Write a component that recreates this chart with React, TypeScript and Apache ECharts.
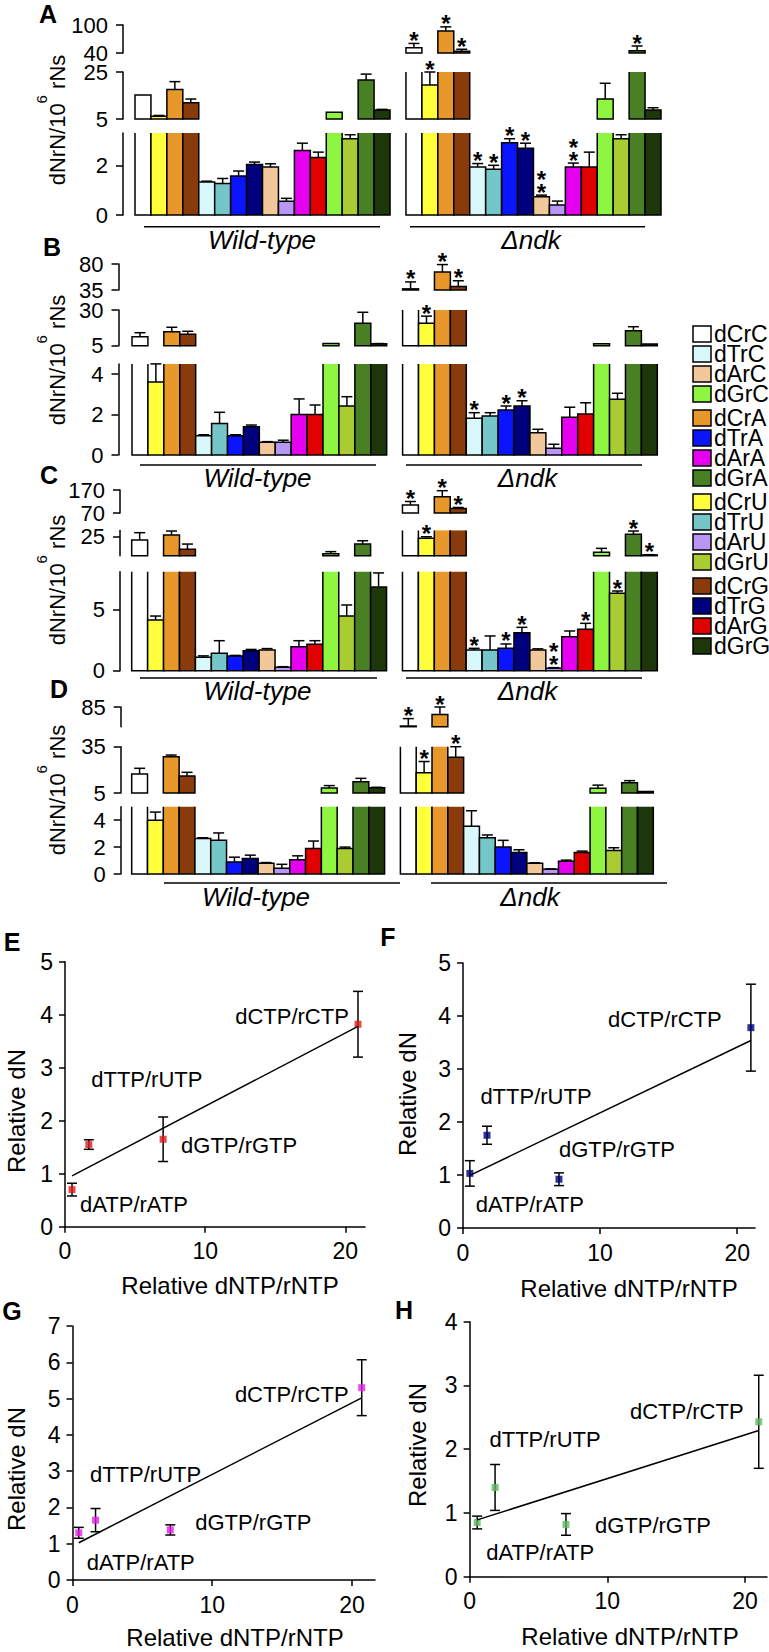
import React, { useEffect, useRef } from "react";
import * as echarts from "echarts";

const FONT = '"Liberation Sans", Arial, Helvetica, sans-serif';

// ---- bar categories (order inside each strain group) ----
const barNames = ["dCrC", "dCrU", "dCrA", "dCrG", "dTrC", "dTrU", "dTrA", "dTrG", "dArC", "dArU", "dArA", "dArG", "dGrC", "dGrU", "dGrA", "dGrG"];
const barColors = ["#ffffff", "#ffff3c", "#e8972b", "#8a3b0b", "#d8f8fb", "#74c6c8", "#0a14ff", "#00007f", "#f2c89b", "#b896f5", "#e600f0", "#e10000", "#8ef540", "#a9cc33", "#4a8024", "#1d370b"];
const legendOrder = ["dCrC", "dTrC", "dArC", "dGrC", "dCrA", "dTrA", "dArA", "dGrA", "dCrU", "dTrU", "dArU", "dGrU", "dCrG", "dTrG", "dArG", "dGrG"];
const strainNames = ["Wild-type", "\u0394ndk"];

// ---- Panel A ----
const wtA = [15.2, 6.2, 17.6, 11.9, 1.33, 1.27, 1.57, 2.03, 1.93, 0.55, 2.6, 2.31, 7.85, 3.07, 21.6, 8.8];
const wtAErr = [0, 0.3, 3.3, 1.6, 0.03, 0.2, 0.2, 0.1, 0.13, 0.12, 0.29, 0.22, 0, 0.16, 2.5, 0.3];
const koA = [51, 19.5, 87, 44, 1.93, 1.84, 2.91, 2.69, 0.73, 0.4, 1.93, 1.93, 13.5, 3.07, 45, 8.8];
const koAErr = [9.5, 5.5, 9, 4, 0.14, 0.16, 0.16, 0.2, 0.07, 0.16, 0.16, 0.6, 6.7, 0.16, 10, 1.0];
const koAStars = [1, 1, 1, 1, 1, 1, 1, 1, 2, 0, 2, 0, 0, 0, 1, 0];

// ---- Panel B ----
const wtB = [11.3, 3.6, 14.8, 13, 0.95, 1.56, 0.95, 1.4, 0.63, 0.63, 2.0, 2.0, 6.5, 2.42, 20.7, 6.3];
const wtBErr = [2.8, 1.0, 3.1, 2.1, 0.05, 0.55, 0.05, 0.08, 0.03, 0.1, 0.77, 0.47, 0, 0.46, 7.7, 0.2];
const koB = [37, 20.7, 66, 41, 1.81, 1.93, 2.22, 2.42, 1.1, 0.33, 1.86, 2.02, 6.3, 2.75, 15.5, 6.2];
const koBErr = [12, 5, 13, 10, 0.28, 0.16, 0.2, 0.26, 0.17, 0.2, 0.5, 0.56, 0, 0.3, 2.8, 0];
const koBStars = [1, 1, 1, 1, 1, 0, 1, 1, 0, 0, 0, 0, 0, 0, 0, 0];

// ---- Panel C ----
const wtC = [22.4, 4.18, 26.3, 15.1, 1.1, 1.43, 1.21, 1.65, 1.7, 0.28, 1.98, 2.17, 11.5, 4.5, 19.2, 6.9];
const wtCErr = [5.8, 0.32, 3.2, 4.1, 0.12, 1.04, 0.05, 0.1, 0.12, 0.05, 0.49, 0.3, 1.7, 0.91, 2.6, 1.15];
const koC = [105, 23.7, 141, 90, 1.7, 1.7, 1.84, 3.13, 1.7, 0.2, 2.8, 3.41, 12.7, 6.38, 26.9, 10.6];
const koCErr = [15, 1.3, 26, 4, 0.14, 1.16, 0.36, 0.44, 0.1, 0.05, 0.47, 0.49, 3.1, 0.18, 2.6, 0.2];
const koCStars = [1, 1, 1, 1, 1, 0, 1, 1, 0, 2, 0, 1, 0, 1, 1, 1];

// ---- Panel D ----
const wtD = [17.3, 4.0, 28.5, 16, 2.64, 2.5, 0.9, 1.15, 0.8, 0.42, 1.05, 1.9, 8.2, 1.9, 12.3, 8.4];
const wtDErr = [3.7, 0.6, 1.1, 2.4, 0.05, 0.55, 0.35, 0.25, 0.05, 0.3, 0.3, 0.55, 1.6, 0.1, 2.2, 0.3];
const koD = [41.5, 18.2, 68, 28.2, 3.55, 2.7, 2.0, 1.6, 0.8, 0.35, 0.95, 1.6, 8, 1.75, 11.6, 6];
const koDErr = [17, 7.2, 17, 6.8, 1.15, 0.2, 0.5, 0.2, 0.03, 0.03, 0.08, 0.1, 2.1, 0.2, 1.4, 0];
const koDStars = [1, 1, 1, 1, 0, 0, 0, 0, 0, 0, 0, 0, 0, 0, 0, 0];

// broken-axis segments [min, max] and tick labels: bottom, middle, top
const segA = [[0, 3.3], [5, 25], [40, 100]];
const segB = [[0, 4.5], [5, 30], [35, 80]];
const segC = [[0, 8.15], [10, 30], [70, 170]];
const segD = [[0, 5], [5, 35], [40, 85]];
const ticksA = [[0, 2], [5, 25], [40, 100]];
const ticksB = [[0, 2, 4], [5, 30], [35, 80]];
const ticksC = [[0, 5], [10, 25], [70, 170]];
const ticksD = [[0, 2, 4], [5, 35], [40, 85]];

// ---- scatter panels E-H ----
const scatterNames = ["dATP/rATP", "dTTP/rUTP", "dGTP/rGTP", "dCTP/rCTP"];
const eX = [0.5, 1.7, 7, 20.9];
const eY = [0.7, 1.55, 1.65, 3.82];
const eErr = [0.12, 0.09, 0.42, 0.62];
const fX = [0.5, 1.75, 7, 21];
const fY = [1.03, 1.75, 0.92, 3.78];
const fErr = [0.24, 0.17, 0.12, 0.82];
const gX = [0.45, 1.65, 7, 20.7];
const gY = [1.3, 1.65, 1.38, 5.3];
const gErr = [0.15, 0.32, 0.14, 0.77];
const hX = [0.55, 1.85, 7, 21];
const hY = [0.85, 1.4, 0.82, 2.43];
const hErr = [0.1, 0.36, 0.17, 0.73];
const xTicks = [0, 10, 20];

// ---- layout ----
const barPanels = [
  { letter: "A", letterPos: [48, 14], left: 135, width: 526, axisX: 123, segs: segA, ticks: ticksA,
    segPx: [[133, 215], [72, 119], [25, 53]], wt: wtA, wtErr: wtAErr, ko: koA, koErr: koAErr, koStars: koAStars,
    lineY: 226.7, wtLine: [144, 380], koLine: [410, 645], textY: 240, wtTextX: 262, koTextX: 531, titleY: 120 },
  { letter: "B", letterPos: [52, 247], left: 132, width: 525.3, axisX: 118.5, segs: segB, ticks: ticksB,
    segPx: [[363.9, 455], [310, 345.7], [264, 290]], wt: wtB, wtErr: wtBErr, ko: koB, koErr: koBErr, koStars: koBStars,
    lineY: 465, wtLine: [140, 376], koLine: [406, 642], textY: 477.5, wtTextX: 257.5, koTextX: 527.5, titleY: 360 },
  { letter: "C", letterPos: [49, 475], left: 131.7, width: 525.6, axisX: 120, segs: segC, ticks: ticksC,
    segPx: [[571.7, 670.7], [530.4, 555.7], [490, 513]], wt: wtC, wtErr: wtCErr, ko: koC, koErr: koCErr, koStars: koCStars,
    lineY: 678, wtLine: [140, 377], koLine: [406, 642], textY: 690.7, wtTextX: 257.5, koTextX: 527.5, titleY: 580 },
  { letter: "D", letterPos: [59, 689], left: 131.7, width: 521.6, axisX: 120.7, segs: segD, ticks: ticksD,
    segPx: [[806.7, 874], [746.7, 793], [707, 726.7]], wt: wtD, wtErr: wtDErr, ko: koD, koErr: koDErr, koStars: koDStars,
    lineY: 883, wtLine: [164, 400], koLine: [431, 667], textY: 897, wtTextX: 256, koTextX: 530, titleY: 790 },
];

const scatterPanels = [
  { letter: "E", x: eX, y: eY, err: eErr, color: "#e01b1b", left: 65, top: 961.7, width: 300, height: 265, xMax: 21.4, yMax: 5,
    letterPos: [12, 942], yTitle: [16, 1111], xTitle: [230, 1285], offsets: [[62, 15], [58, -65], [76, 6], [-66, -8]] },
  { letter: "F", x: fX, y: fY, err: fErr, color: "#00007a", left: 463, top: 963, width: 292, height: 265, xMax: 21.3, yMax: 5,
    letterPos: [388, 937], yTitle: [407, 1094], xTitle: [629, 1288], offsets: [[60, 31], [49, -39], [58, -30], [-86, -8]] },
  { letter: "G", x: gX, y: gY, err: gErr, color: "#e41fe6", left: 72.5, top: 1326, width: 302.5, height: 254, xMax: 21.65, yMax: 7,
    letterPos: [12, 1311], yTitle: [16, 1469], xTitle: [235, 1637], offsets: [[62, 30], [50, -46], [83, -7], [-70, 7]] },
  { letter: "H", x: hX, y: hY, err: hErr, color: "#5cb85c", left: 469.6, top: 1321.7, width: 297.4, height: 255, xMax: 21.6, yMax: 4,
    letterPos: [404, 1310], yTitle: [417, 1445], xTitle: [630, 1636], offsets: [[63, 30], [50, -48], [87, 1], [-72, -10]] },
];

const legendLayout = { boxX: 693, textX: 714, firstY: 334, rowGap: 20, groupGap: 84 };

function barSeries(gi: number, seg: number[], items: number[][]) {
  const lo = seg[0];
  const hi = seg[1];
  return {
    type: "custom",
    coordinateSystem: "cartesian2d",
    xAxisIndex: gi,
    yAxisIndex: gi,
    clip: false,
    silent: true,
    data: items,
    encode: { x: 0, y: 1 },
    renderItem: (params: any, api: any) => {
      const slot = api.value(0);
      const v = api.value(1);
      const e = api.value(2);
      const st = api.value(3);
      const ci = api.value(4);
      const children: any[] = [];
      if (!(v > lo)) return { type: "group", children };
      const w = api.size([1, 0])[0];
      const base = api.coord([slot, lo]);
      const xc = base[0];
      const yb = base[1];
      const x0 = xc - w / 2;
      const x1 = xc + w / 2;
      const clipped = v > hi;
      const yt = api.coord([slot, Math.min(v, hi)])[1];
      children.push({ type: "rect", shape: { x: x0, y: yt, width: w, height: yb - yt }, style: { fill: barColors[ci], stroke: "none" } });
      if (clipped) {
        children.push({ type: "polyline", shape: { points: [[x0, yt], [x0, yb], [x1, yb], [x1, yt]] }, style: { fill: "none", stroke: "#000", lineWidth: 1.5 } });
      } else {
        children.push({ type: "rect", shape: { x: x0, y: yt, width: w, height: yb - yt }, style: { fill: "none", stroke: "#000", lineWidth: 1.5 } });
        let ye = yt;
        if (e > 0) {
          ye = api.coord([slot, Math.min(v + e, hi)])[1];
          children.push({ type: "line", shape: { x1: xc, y1: yt, x2: xc, y2: ye }, style: { stroke: "#000", lineWidth: 1.5 } });
          children.push({ type: "line", shape: { x1: xc - 5.5, y1: ye, x2: xc + 5.5, y2: ye }, style: { stroke: "#000", lineWidth: 1.5 } });
        }
        for (let k = 0; k < st; k++) {
          children.push({ type: "text", x: xc, y: ye - 3 - k * 13,
            style: { text: "*", fontSize: 24, fontWeight: "bold", fontFamily: FONT, fill: "#000", align: "center", verticalAlign: "middle" } });
        }
      }
      return { type: "group", children };
    },
  };
}

function regression(xs: number[], ys: number[]) {
  const n = xs.length;
  const mx = xs.reduce((a, b) => a + b, 0) / n;
  const my = ys.reduce((a, b) => a + b, 0) / n;
  let sxy = 0;
  let sxx = 0;
  for (let i = 0; i < n; i++) {
    sxy += (xs[i] - mx) * (ys[i] - my);
    sxx += (xs[i] - mx) * (xs[i] - mx);
  }
  const b = sxy / sxx;
  return { a: my - b * mx, b };
}

function buildOption() {
  const grid: any[] = [];
  const xAxis: any[] = [];
  const yAxis: any[] = [];
  const series: any[] = [];
  const graphic: any[] = [];
  const axisLineStyle = { color: "#000", width: 1.5 };
  let gi = 0;

  barPanels.forEach((p) => {
    const items: number[][] = [];
    for (let i = 0; i < barNames.length; i++) items.push([i, p.wt[i], p.wtErr[i], 0, i]);
    for (let i = 0; i < barNames.length; i++) items.push([i + barNames.length + 1, p.ko[i], p.koErr[i], p.koStars[i], i]);
    p.segs.forEach((seg, k) => {
      const top = p.segPx[k][0];
      const bottom = p.segPx[k][1];
      grid.push({ left: p.left, top, width: p.width, height: bottom - top });
      xAxis.push({ type: "value", gridIndex: gi, min: -0.5, max: barNames.length * 2 + 0.5, show: false });
      yAxis.push({
        type: "value", gridIndex: gi, min: seg[0], max: seg[1], offset: p.left - p.axisX,
        axisLine: { show: true, onZero: false, lineStyle: axisLineStyle },
        axisTick: { show: true, length: 7, customValues: p.ticks[k], lineStyle: axisLineStyle },
        axisLabel: { show: true, customValues: p.ticks[k], fontSize: 22, fontFamily: FONT, color: "#000", margin: 15 },
        splitLine: { show: false },
      });
      series.push(barSeries(gi, seg, items));
      gi++;
    });
    graphic.push({ type: "text", x: p.letterPos[0], y: p.letterPos[1],
      style: { text: p.letter, fontSize: 25, fontWeight: "bold", fontFamily: FONT, fill: "#000", align: "center", verticalAlign: "middle" } });
    graphic.push({ type: "text", x: 51, y: p.titleY, rotation: Math.PI / 2,
      style: { text: "{a|dNrN/10}{b|6}{a| rNs}", align: "center", verticalAlign: "middle", fill: "#000",
        rich: {
          a: { fontSize: 22, fontFamily: FONT, fill: "#000", lineHeight: 22, padding: [12, 0, 0, 0] },
          b: { fontSize: 15, fontFamily: FONT, fill: "#000", lineHeight: 15, padding: [0, 0, 19, 0] },
        } } });
    graphic.push({ type: "line", shape: { x1: p.wtLine[0], y1: p.lineY, x2: p.wtLine[1], y2: p.lineY }, style: { stroke: "#000", lineWidth: 1.5 } });
    graphic.push({ type: "line", shape: { x1: p.koLine[0], y1: p.lineY, x2: p.koLine[1], y2: p.lineY }, style: { stroke: "#000", lineWidth: 1.5 } });
    graphic.push({ type: "text", x: p.wtTextX, y: p.textY,
      style: { text: strainNames[0], fontSize: 26, fontStyle: "italic", fontFamily: FONT, fill: "#000", align: "center", verticalAlign: "middle" } });
    graphic.push({ type: "text", x: p.koTextX, y: p.textY,
      style: { text: strainNames[1], fontSize: 26, fontStyle: "italic", fontFamily: FONT, fill: "#000", align: "center", verticalAlign: "middle" } });
  });

  legendOrder.forEach((name, i) => {
    const g = Math.floor(i / 4);
    const r = i % 4;
    const cy = legendLayout.firstY + g * legendLayout.groupGap + r * legendLayout.rowGap;
    const ci = barNames.indexOf(name);
    graphic.push({ type: "rect", shape: { x: legendLayout.boxX, y: cy - 8, width: 18, height: 16 },
      style: { fill: barColors[ci], stroke: "#000", lineWidth: 1.5 } });
    graphic.push({ type: "text", x: legendLayout.textX, y: cy,
      style: { text: name, fontSize: 23, fontFamily: FONT, fill: "#000", align: "left", verticalAlign: "middle" } });
  });

  scatterPanels.forEach((p) => {
    grid.push({ left: p.left, top: p.top, width: p.width, height: p.height });
    xAxis.push({
      type: "value", gridIndex: gi, min: 0, max: p.xMax,
      axisLine: { show: true, onZero: false, lineStyle: axisLineStyle },
      axisTick: { show: true, length: 6, customValues: xTicks, lineStyle: axisLineStyle },
      axisLabel: { show: true, customValues: xTicks, fontSize: 23, fontFamily: FONT, color: "#000", margin: 13 },
      splitLine: { show: false },
    });
    yAxis.push({
      type: "value", gridIndex: gi, min: 0, max: p.yMax, interval: 1,
      axisLine: { show: true, onZero: false, lineStyle: axisLineStyle },
      axisTick: { show: true, length: 6, lineStyle: axisLineStyle },
      axisLabel: { show: true, fontSize: 23, fontFamily: FONT, color: "#000", margin: 12 },
      splitLine: { show: false },
    });
    const fit = regression(p.x, p.y);
    const xa = Math.min(...p.x);
    const xb = Math.max(...p.x);
    series.push({ type: "line", xAxisIndex: gi, yAxisIndex: gi, silent: true, symbol: "none", showSymbol: false,
      data: [[xa, fit.a + fit.b * xa], [xb, fit.a + fit.b * xb]], lineStyle: { color: "#000", width: 1.5 } });
    const offs = p.offsets;
    series.push({
      type: "custom", coordinateSystem: "cartesian2d", xAxisIndex: gi, yAxisIndex: gi, silent: true, clip: false,
      data: p.x.map((x, i) => [x, p.y[i], p.err[i], i]), encode: { x: 0, y: 1 },
      renderItem: (params: any, api: any) => {
        const x = api.value(0);
        const y = api.value(1);
        const e = api.value(2);
        const idx = api.value(3);
        const pt = api.coord([x, y]);
        const top = api.coord([x, y + e]);
        const bot = api.coord([x, y - e]);
        const s = { stroke: "#000", lineWidth: 1.5 };
        return { type: "group", children: [
          { type: "line", shape: { x1: top[0], y1: top[1], x2: bot[0], y2: bot[1] }, style: s },
          { type: "line", shape: { x1: top[0] - 5, y1: top[1], x2: top[0] + 5, y2: top[1] }, style: s },
          { type: "line", shape: { x1: bot[0] - 5, y1: bot[1], x2: bot[0] + 5, y2: bot[1] }, style: s },
          { type: "text", x: pt[0] + offs[idx][0], y: pt[1] + offs[idx][1],
            style: { text: scatterNames[idx], fontSize: 22, fontFamily: FONT, fill: "#000", align: "center", verticalAlign: "middle" } },
        ] };
      },
    });
    series.push({
      type: "scatter", xAxisIndex: gi, yAxisIndex: gi, symbol: "rect", symbolSize: 7, silent: true,
      itemStyle: { color: p.color },
      data: p.x.map((x, i) => [x, p.y[i]]),
    });
    graphic.push({ type: "text", x: p.letterPos[0], y: p.letterPos[1],
      style: { text: p.letter, fontSize: 25, fontWeight: "bold", fontFamily: FONT, fill: "#000", align: "center", verticalAlign: "middle" } });
    graphic.push({ type: "text", x: p.yTitle[0], y: p.yTitle[1], rotation: Math.PI / 2,
      style: { text: "Relative dN", fontSize: 24, fontFamily: FONT, fill: "#000", align: "center", verticalAlign: "middle" } });
    graphic.push({ type: "text", x: p.xTitle[0], y: p.xTitle[1],
      style: { text: "Relative dNTP/rNTP", fontSize: 24, fontFamily: FONT, fill: "#000", align: "center", verticalAlign: "middle" } });
    gi++;
  });

  return { animation: false, backgroundColor: "#fff", grid, xAxis, yAxis, series, graphic };
}

export default function App() {
  const ref = useRef<HTMLDivElement>(null);
  useEffect(() => {
    const chart = echarts.init(ref.current as HTMLDivElement, null, { renderer: "svg" });
    chart.setOption(buildOption() as any);
    return () => chart.dispose();
  }, []);
  return <div ref={ref} style={{ position: "absolute", left: 0, top: 0, width: 769, height: 1652, background: "#fff" }} />;
}
